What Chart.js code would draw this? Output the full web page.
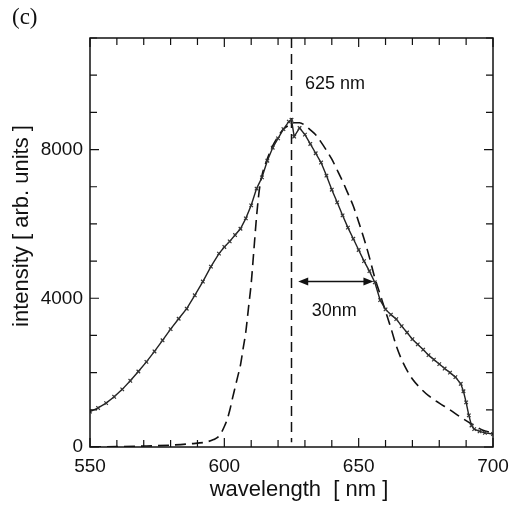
<!DOCTYPE html>
<html>
<head>
<meta charset="utf-8">
<script src="https://cdn.jsdelivr.net/npm/chart.js@4.4.1/dist/chart.umd.min.js"></script>
<style>
  body { margin: 0; background: #fff; }
  canvas { display: block; }
</style>
</head>
<body>
<canvas id="spectrum" width="520" height="506"></canvas>
<script>
// measured spectrum (solid, noisy)
const measWl = [550,553,556,559,562,565,568,571,574,577,580,583,586,589,592,595,598,600,602,604,606,608,610,612,614,616,618,620,622,624,625,626,628,630,632,634,636,638,640,642,644,646,648,650,652,654,656,658,660,662,664,666,668,670,672,674,676,678,680,682,684,686,688,689,690,691,692,693,695,697,700];
const measVal = [950,1050,1180,1350,1550,1780,2030,2290,2570,2870,3170,3450,3720,4080,4450,4850,5200,5380,5530,5700,5870,6150,6500,6950,7250,7700,8050,8300,8550,8750,8800,8350,8580,8400,8150,7900,7650,7300,6920,6580,6230,5900,5600,5300,5000,4730,4430,3950,3700,3560,3440,3250,3080,2900,2760,2620,2470,2350,2230,2110,2000,1880,1700,1500,1200,850,580,480,420,380,350];

// model curve (dashed)
const fitWl = [550,560,570,580,588,593,596,598,599,600,601,602,603,604,605,606,607,608,609,610,611,612,613,614,616,618,620,622,624,626,628,630,632,634,636,638,640,642,644,646,648,650,652,654,656,658,660,662,664,666,668,670,673,676,680,684,688,692,696,700];
const fitVal = [0,10,25,50,90,130,200,290,400,550,730,980,1300,1600,1900,2200,2650,3100,3750,4400,5300,6200,6900,7300,7750,8100,8350,8550,8650,8720,8720,8650,8530,8400,8200,7980,7740,7450,7150,6820,6480,6050,5600,5100,4550,4100,3650,3200,2720,2350,2060,1830,1580,1380,1180,1000,800,620,460,370];

// marker line and width arrow
const peakWl = 625;
const peakLine = [11000, 130];
const arrowWl = [627.5, 655.5];
const arrowVal = 4450;

const xTicks = [550, 600, 650, 700];
const yTicks = [0, 4000, 8000];

function toPoints(xs, ys){
    return xs.map(function (v, i) { return {x: v, y: ys[i]}; });
}

const frameTicks = {
    id: 'frameTicks',
    afterDraw(chart){
        const ctx = chart.ctx;
        const a = chart.chartArea;
        const xs = chart.scales.x;
        const ys = chart.scales.y;
        ctx.save();
        ctx.strokeStyle = '#111';
        ctx.lineWidth = 1.5;
        ctx.strokeRect(a.left, a.top, a.right - a.left, a.bottom - a.top);
        ctx.lineWidth = 1.2;
        ctx.beginPath();
        for (let v = 550; v <= 700; v += 10) {
            const px = xs.getPixelForValue(v);
            const len = xTicks.includes(v) ? 9 : 7;
            ctx.moveTo(px, a.bottom); ctx.lineTo(px, a.bottom - len);
            ctx.moveTo(px, a.top); ctx.lineTo(px, a.top + len);
        }
        for (let v = 0; v <= 11000; v += 1000) {
            const py = ys.getPixelForValue(v);
            const len = yTicks.includes(v) ? 9 : 7;
            ctx.moveTo(a.left, py); ctx.lineTo(a.left + len, py);
            ctx.moveTo(a.right, py); ctx.lineTo(a.right - len, py);
        }
        ctx.stroke();

        // width arrow
        const x1 = xs.getPixelForValue(arrowWl[0]);
        const x2 = xs.getPixelForValue(arrowWl[1]);
        const y = ys.getPixelForValue(arrowVal);
        ctx.lineWidth = 1.6;
        ctx.beginPath();
        ctx.moveTo(x1 + 6, y); ctx.lineTo(x2 - 6, y);
        ctx.stroke();
        ctx.fillStyle = '#111';
        ctx.beginPath();
        ctx.moveTo(x1, y); ctx.lineTo(x1 + 10, y - 4); ctx.lineTo(x1 + 10, y + 4); ctx.closePath();
        ctx.moveTo(x2, y); ctx.lineTo(x2 - 10, y - 4); ctx.lineTo(x2 - 10, y + 4); ctx.closePath();
        ctx.fill();

        // texts
        ctx.font = "18px 'Liberation Sans', Arial, sans-serif";
        ctx.textBaseline = 'middle';
        ctx.textAlign = 'left';
        ctx.fillText('625 nm', xs.getPixelForValue(630), 84);
        ctx.fillText('30nm', xs.getPixelForValue(632.5), 311);

        // axis titles
        ctx.font = "22px 'Liberation Sans', Arial, sans-serif";
        ctx.textAlign = 'center';
        ctx.fillText('wavelength  [ nm ]', 299, 490);
        ctx.save();
        ctx.translate(22, 226);
        ctx.rotate(-Math.PI / 2);
        ctx.fillText('intensity [ arb. units ]', 0, 0);
        ctx.restore();

        ctx.textAlign = 'left';
        ctx.font = "23px 'Liberation Serif', 'Times New Roman', serif";
        ctx.fillText('(c)', 12, 18);
        ctx.restore();
    }
};

const ctx = document.getElementById('spectrum').getContext('2d');
Chart.defaults.font.family = "'Liberation Sans', Arial, sans-serif";
Chart.defaults.color = '#111';

new Chart(ctx, {
    type: 'line',
    data: {
        datasets: [
            {
                label: 'measured',
                data: toPoints(measWl, measVal),
                borderColor: '#222',
                borderWidth: 1.4,
                pointStyle: 'crossRot',
                pointRadius: 2.5,
                pointBorderWidth: 1.2,
                pointBorderColor: '#333',
                tension: 0
            },
            {
                label: 'model',
                data: toPoints(fitWl, fitVal),
                borderColor: '#111',
                borderWidth: 1.6,
                borderDash: [11, 6],
                pointRadius: 0,
                cubicInterpolationMode: 'monotone'
            },
            {
                label: 'peak',
                data: [{x: peakWl, y: peakLine[0]}, {x: peakWl, y: peakLine[1]}],
                borderColor: '#111',
                borderWidth: 1.5,
                borderDash: [10, 6],
                pointRadius: 0
            }
        ]
    },
    options: {
        responsive: false,
        animation: false,
        layout: { padding: { top: 38, right: 27, left: 0, bottom: 0 } },
        plugins: { legend: { display: false }, tooltip: { enabled: false } },
        scales: {
            x: {
                type: 'linear',
                min: 550, max: 700,
                grid: { display: false, drawTicks: false },
                border: { display: false },
                afterFit(scale){ scale.height = 59; },
                afterBuildTicks(scale){ scale.ticks = xTicks.map(function (v) { return {value: v}; }); },
                ticks: { padding: 8, font: { size: 19 }, maxRotation: 0, callback: function (v) { return String(v); } }
            },
            y: {
                min: 0, max: 11000,
                grid: { display: false, drawTicks: false },
                border: { display: false },
                afterFit(scale){ scale.width = 90; },
                afterBuildTicks(scale){ scale.ticks = yTicks.map(function (v) { return {value: v}; }); },
                ticks: { padding: 7, font: { size: 19 }, callback: function (v) { return String(v); } }
            }
        }
    },
    plugins: [frameTicks]
});
</script>
</body>
</html>
